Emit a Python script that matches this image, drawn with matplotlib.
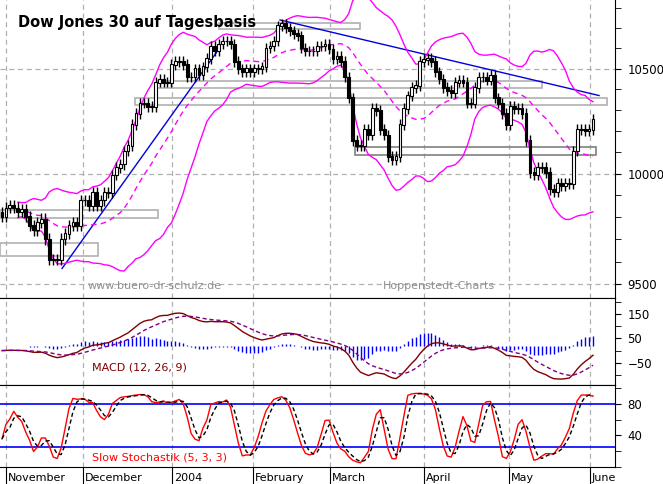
import numpy as np
import pandas as pd
import matplotlib
matplotlib.use("Agg")
import matplotlib.pyplot as plt
import matplotlib.transforms as mt
from matplotlib.patches import Rectangle

# ---- data (daily closes, Dow Jones, late Oct 2003 - early Jun 2004) ----
closes = [9803,9843,9854,9843,9828,9838,9803,9763,9742,9778,9793,9702,9611,9611,9611,9702,9727,9763,9778,9763,
          9879,9879,9854,9914,9854,9879,9914,9914,9995,10030,10045,10106,10131,10232,10283,10333,10333,10318,10318,10434,
          10449,10434,10434,10520,10535,10535,10520,10460,10460,10500,10470,10510,10550,10611,10586,10621,10636,10636,10621,10535,
          10500,10485,10500,10485,10500,10500,10510,10601,10611,10636,10712,10722,10702,10687,10672,10662,10601,10586,10586,10586,
          10611,10611,10621,10596,10550,10561,10535,10460,10359,10157,10131,10131,10207,10182,10308,10298,10207,10182,10081,10066,
          10081,10232,10308,10369,10409,10419,10535,10545,10550,10535,10485,10449,10409,10394,10384,10434,10444,10434,10333,10333,
          10409,10460,10460,10444,10470,10359,10333,10283,10232,10318,10308,10308,10283,10157,10005,9995,10030,10030,10005,9929,
          9919,9955,9944,9955,9955,10106,10207,10207,10202,10207,10258]
wick = 25
month_labels = ["November", "December", "2004", "February", "March", "April", "May", "June"]
month_pos = [6, 83, 172, 253, 330, 424, 509, 590]
zones = [(0, 158, 9795, 9834, "#b0b0b0"), (0, 98, 9628, 9683, "#b0b0b0"),
         (135, 607, 10325, 10356, "#b0b0b0"), (157, 542, 10408, 10438, "#b0b0b0"),
         (219, 360, 10693, 10725, "#b0b0b0"), (355, 596, 10089, 10124, "#808080")]
trend_lines = [((62, 9570), (218, 10590)), ((280, 10740), (599, 10370))]

n = len(closes)
xs = np.linspace(2, 593, n)
c = pd.Series(closes, dtype=float)
o = c.shift(1).fillna(c.iloc[0] + 20)
hi = np.maximum(o, c) + wick
lo = np.minimum(o, c) - wick

ma = c.rolling(20, min_periods=5).mean()
sd = c.rolling(20, min_periods=5).std(ddof=0)
up, dn = ma + 2 * sd, ma - 2 * sd
macd = c.ewm(span=12).mean() - c.ewm(span=26).mean()
sig = macd.ewm(span=9).mean()
hh = pd.Series(hi).rolling(5, min_periods=1).max()
ll = pd.Series(lo).rolling(5, min_periods=1).min()
k = 100 * (c - ll) / (hh - ll)
slowk = k.rolling(3, min_periods=1).mean()
slowd = slowk.rolling(3, min_periods=1).mean()

W, H = 663, 484
fig = plt.figure(figsize=(6.63, 4.84), dpi=100)
def ax_at(top, bot):
    return fig.add_axes([0.0, 1 - bot / H, 615 / W, (bot - top) / H])
ax1 = ax_at(0, 298)
ax2 = ax_at(298, 385)
ax3 = ax_at(385, 467)

for ax in (ax1, ax2, ax3):
    ax.set_xlim(0, 615)
    for m in month_pos:
        ax.axvline(m, color="#b0b0b0", ls=(0, (4, 3)), lw=0.9, zorder=0)
    ax.yaxis.tick_right()
    ax.tick_params(axis="y", direction="out", length=4, labelsize=8.5, pad=5)
    for s in ("top", "left"):
        ax.spines[s].set_visible(False)

# main
ax1.set_yscale("log")
ax1.set_ylim(9440, 10840)
ax1.set_xticks([])
for p in (9500, 10000, 10500):
    ax1.axhline(p, color="#b0b0b0", ls=(0, (4, 3)), lw=0.9, zorder=0)
ax1.set_yticks([9500, 10000, 10500])
ax1.set_yticks(range(9500, 10801, 100), minor=True)
ax1.set_yticklabels(["9500", "10000", "10500"])
ax1.yaxis.set_minor_formatter(matplotlib.ticker.NullFormatter())
ax1.tick_params(axis="y", which="minor", length=4, direction="out")
for x0, x1, pl, ph, col in zones:
    ax1.add_patch(Rectangle((x0, pl), x1 - x0, ph - pl, fill=False, ec=col, lw=1.2, zorder=1))
for (a, b) in trend_lines:
    ax1.plot([a[0], b[0]], [a[1], b[1]], color="#0000dd", lw=1, zorder=2)
ax1.plot(xs, up, color="#ff00ff", lw=1, zorder=2)
ax1.plot(xs, dn, color="#ff00ff", lw=1, zorder=2)
ax1.plot(xs, ma, color="#ff00ff", lw=1, ls=(0, (4, 3)), zorder=2)
ax1.vlines(xs, lo, hi, color="black", lw=1, zorder=3)
body_col = ["white" if cc >= oo else "black" for cc, oo in zip(c, o)]
ax1.bar(xs, np.abs(c - o) + 3, bottom=np.minimum(c, o) - 1.5, width=2.8,
        color=body_col, edgecolor="black", lw=0.8, zorder=4)
fig.text(18 / W, 1 - 22 / H, "Dow Jones 30 auf Tagesbasis", fontsize=10.5, fontweight="bold", va="center")
fig.text(88 / W, 1 - 286 / H, "www.buero-dr-schulz.de", fontsize=8, color="#909090", va="center")
fig.text(383 / W, 1 - 286 / H, "Hoppenstedt-Charts", fontsize=8, color="#909090", va="center")

# MACD
ax2.set_ylim(-142, 217)
ax2.set_xticks([])
ax2.spines["top"].set_visible(True)
ax2.set_yticks([150, 50, -50])
ax2.set_yticks(range(-100, 201, 50), minor=True)
ax2.tick_params(axis="y", which="minor", length=4)
hist = (macd - sig)
ax2.vlines(xs, 20, 20 + hist, color="#0000ff", lw=1)
ax2.plot(xs, macd, color="#800000", lw=1)
ax2.plot(xs, sig, color="#800080", lw=1, ls=(0, (3, 2)))
fig.text(92 / W, 1 - 368 / H, "MACD (12, 26, 9)", fontsize=8, color="#800000", va="center")

# Stochastic
ax3.set_ylim(1, 104)
ax3.spines["top"].set_visible(True)
ax3.set_yticks([80, 40])
ax3.set_yticks(range(0, 101, 20), minor=True)
ax3.tick_params(axis="y", which="minor", length=4)
ax3.axhline(80, color="#0000ff", lw=1.2)
ax3.axhline(25, color="#0000ff", lw=1.2)
ax3.plot(xs, slowk, color="#ff0000", lw=1)
ax3.plot(xs, slowd, color="black", lw=1, ls=(0, (3, 2)))
fig.text(92 / W, 1 - 458 / H, "Slow Stochastik (5, 3, 3)", fontsize=8, color="#ff0000", va="center")
ax3.set_xticks(month_pos)
ax3.set_xticklabels(month_labels, ha="left", fontsize=8)
ax3.tick_params(axis="x", direction="out", length=14, pad=-10)
for lab in ax3.get_xticklabels():
    lab.set_transform(lab.get_transform() + mt.ScaledTranslation(2 / 100, 0, fig.dpi_scale_trans))

fig.savefig("out.png", dpi=100)
